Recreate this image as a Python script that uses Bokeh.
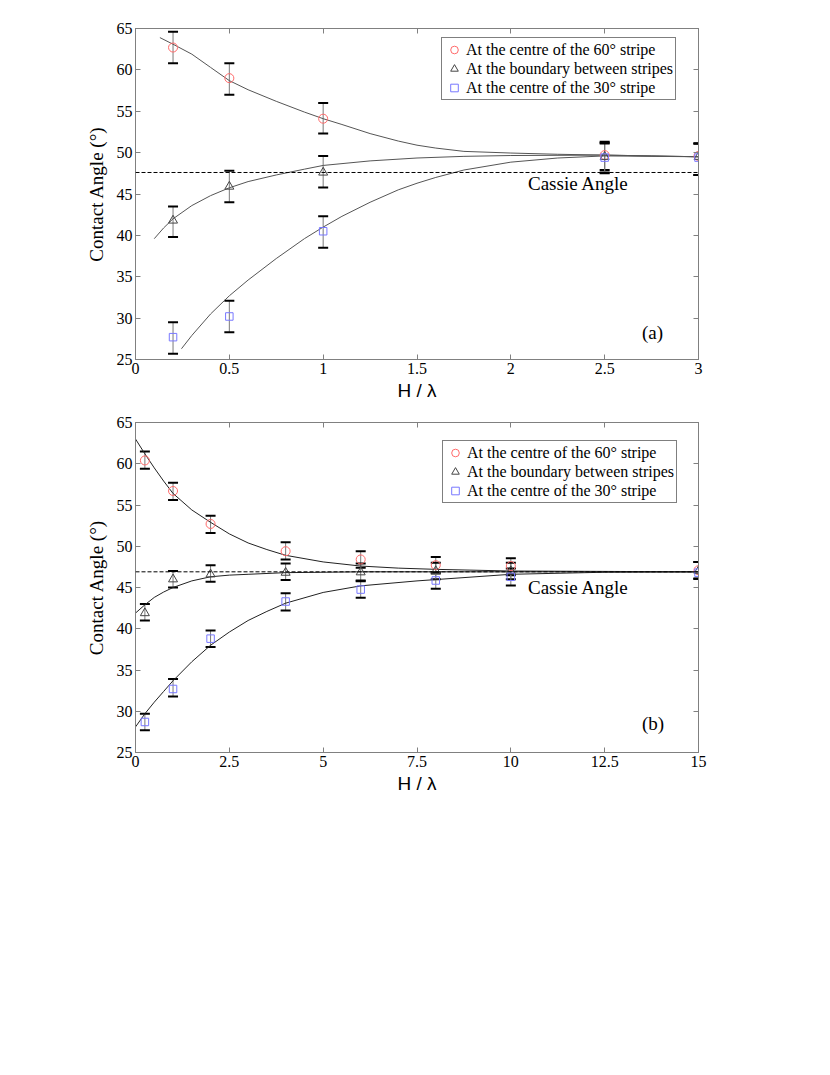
from bokeh.plotting import figure
from bokeh.models import (Range1d, LinearAxis, FixedTicker, CustomJSTickFormatter, Span,
                          Label, Whisker, TeeHead, ColumnDataSource, Legend, LegendItem)
from bokeh.layouts import column
from bokeh.embed import file_html
from bokeh.resources import INLINE

# ---------------- data: panel (a) ----------------
a_x = [0.2, 0.5, 1.0, 2.5, 3.0]
a_c60 = [62.7, 59.0, 54.1, 49.7, 49.6]
a_c60_lo = [60.8, 57.0, 52.3, 47.9, 47.3]
a_c60_hi = [64.6, 60.8, 56.0, 51.3, 51.1]
a_bnd = [41.8, 45.9, 47.6, 49.5, 49.5]
a_bnd_lo = [39.8, 44.0, 45.8, 47.6, 47.3]
a_bnd_hi = [43.5, 47.8, 49.6, 51.2, 51.1]
a_c30 = [27.7, 30.2, 40.5, 49.4, 49.4]
a_c30_lo = [25.7, 28.3, 38.5, 47.5, 47.3]
a_c30_hi = [29.5, 32.1, 42.3, 51.1, 51.1]
a_cassie = 47.6

a_fit60_x = [0.13, 0.2, 0.3, 0.4, 0.5, 0.6, 0.75, 0.9, 1.0, 1.1, 1.25, 1.4, 1.5, 1.6,
             1.75, 2.0, 2.25, 2.5, 2.75, 3.0]
a_fit60_y = [63.9, 63.1, 61.9, 60.3, 58.7, 57.6, 56.2, 54.9, 54.1, 53.4, 52.3, 51.4, 50.9,
             50.55, 50.15, 49.95, 49.8, 49.7, 49.6, 49.5]
a_fitb_x = [0.1, 0.15, 0.2, 0.3, 0.4, 0.5, 0.6, 0.75, 0.9, 1.0, 1.25, 1.5, 1.75, 2.0, 2.5, 3.0]
a_fitb_y = [39.6, 40.9, 42.0, 43.6, 44.8, 45.75, 46.5, 47.3, 48.0, 48.45, 49.0, 49.35, 49.55,
            49.65, 49.7, 49.5]
a_fit30_x = [0.245, 0.3, 0.4, 0.5, 0.6, 0.75, 0.9, 1.0, 1.1, 1.25, 1.4, 1.5, 1.6, 1.75, 2.0,
             2.25, 2.5, 3.0]
a_fit30_y = [26.3, 27.9, 30.5, 32.7, 34.6, 37.2, 39.6, 41.0, 42.3, 44.0, 45.5, 46.3, 47.0,
             47.9, 48.85, 49.35, 49.6, 49.5]
a_xticks = [0, 0.5, 1, 1.5, 2, 2.5, 3]

# ---------------- data: panel (b) ----------------
b_x = [0.25, 1, 2, 4, 6, 8, 10, 15]
b_c60 = [60.4, 56.7, 52.7, 49.4, 48.4, 47.7, 47.6, 47.1]
b_c60_lo = [59.4, 55.6, 51.6, 48.4, 47.4, 46.7, 46.5, 46.05]
b_c60_hi = [61.5, 57.7, 53.7, 50.5, 49.4, 48.7, 48.55, 48.1]
b_bnd = [41.9, 46.0, 46.6, 46.8, 46.85, 47.0, 47.0, 47.0]
b_bnd_lo = [41.0, 45.0, 45.7, 45.9, 45.85, 46.0, 46.0, 46.05]
b_bnd_hi = [43.0, 47.0, 47.7, 47.9, 47.9, 48.0, 48.0, 48.1]
b_c30 = [28.7, 32.7, 38.8, 43.3, 44.75, 45.85, 46.3, 46.8]
b_c30_lo = [27.7, 31.8, 37.8, 42.2, 43.75, 44.85, 45.25, 46.05]
b_c30_hi = [29.7, 33.9, 39.8, 44.3, 45.75, 46.85, 47.3, 48.1]
b_cassie = 46.9

b_fit60_x = [0, 0.25, 0.5, 0.75, 1, 1.5, 2, 2.5, 3, 3.5, 4, 5, 6, 7, 8, 10, 12.5, 15]
b_fit60_y = [63.0, 61.2, 59.5, 57.9, 56.4, 54.4, 52.9, 51.5, 50.4, 49.6, 48.9, 48.1, 47.6,
             47.35, 47.2, 47.0, 46.95, 46.9]
b_fitb_x = [0, 0.25, 0.5, 0.75, 1, 1.5, 2, 2.5, 3, 4, 5, 6, 10, 15]
b_fitb_y = [41.9, 42.9, 43.8, 44.45, 45.0, 45.8, 46.3, 46.5, 46.6, 46.8, 46.85, 46.9, 46.9, 46.9]
b_fit30_x = [0, 0.25, 0.5, 0.75, 1, 1.5, 2, 2.5, 3, 3.5, 4, 5, 6, 7.5, 10, 12.5, 15]
b_fit30_y = [28.1, 29.7, 31.1, 32.4, 33.7, 36.0, 38.0, 39.6, 41.0, 42.1, 43.1, 44.4, 45.2,
             45.8, 46.6, 46.85, 46.9]
b_xticks = [0, 2.5, 5, 7.5, 10, 12.5, 15]

y_ticks = [25, 30, 35, 40, 45, 50, 55, 60, 65]
labels = ["At the centre of the 60° stripe",
          "At the boundary between stripes",
          "At the centre of the 30° stripe"]

SERIF = "Liberation Serif"
SANS = "Liberation Sans"
AX_COL = "#808080"
RED = "#ff6a6a"
BLUE = "#7878ff"
TRI = "#444444"


def make_panel(xmax, xticks, x, series, fits, cassie, cassie_xy, tag_xy, tag,
               legend_loc, border_top, border_bottom, frame_h, fit_color):
    p = figure(frame_width=563, frame_height=frame_h, output_backend="svg",
               toolbar_location=None, x_range=Range1d(0, xmax), y_range=Range1d(25, 65),
               min_border_left=135, min_border_right=22, min_border_top=border_top,
               min_border_bottom=border_bottom, background_fill_color="white",
               border_fill_color="white")
    p.xgrid.visible = False
    p.ygrid.visible = False
    p.outline_line_color = AX_COL

    bottom = p.below[0]
    left = p.left[0]
    bottom.ticker = FixedTicker(ticks=xticks)
    bottom.formatter = CustomJSTickFormatter(code="return String(tick);")
    left.ticker = FixedTicker(ticks=y_ticks)

    blank = CustomJSTickFormatter(code="return '';")
    top = LinearAxis(ticker=FixedTicker(ticks=xticks), formatter=blank)
    p.add_layout(top, "above")
    right = LinearAxis(ticker=FixedTicker(ticks=y_ticks), formatter=blank)
    p.add_layout(right, "right")

    for ax in (bottom, left, top, right):
        ax.axis_line_color = AX_COL
        ax.major_tick_line_color = AX_COL
        ax.major_tick_in = 5
        ax.major_tick_out = 0
        ax.minor_tick_line_color = None
        ax.major_label_text_font = SERIF
        ax.major_label_text_font_style = "normal"
        ax.major_label_text_font_size = "16px"
        ax.major_label_text_color = "black"
        ax.major_label_standoff = 3
    top.major_label_standoff = 0
    right.major_label_standoff = 0

    bottom.axis_label = "H / λ"
    bottom.axis_label_text_font = SANS
    bottom.axis_label_text_font_style = "normal"
    bottom.axis_label_text_font_size = "19px"
    bottom.axis_label_text_color = "black"
    bottom.axis_label_standoff = 3
    left.axis_label = "Contact Angle (°)"
    left.axis_label_text_font = SERIF
    left.axis_label_text_font_style = "normal"
    left.axis_label_text_font_size = "19px"
    left.axis_label_text_color = "black"
    left.axis_label_standoff = 7

    # Cassie angle dashed line
    p.add_layout(Span(location=cassie, dimension="width", line_color="black",
                      line_width=1, line_dash="4 2"))
    p.add_layout(Label(x=cassie_xy[0], y=cassie_xy[1], text="Cassie Angle",
                       text_font=SERIF, text_font_size="19px", text_align="center",
                       text_baseline="middle", text_color="black"))
    p.add_layout(Label(x=tag_xy[0], y=tag_xy[1], text=tag, text_font=SERIF,
                       text_font_size="19px", text_align="center",
                       text_baseline="middle", text_color="black"))

    # fitted curves
    for fx, fy in fits:
        p.line(fx, fy, line_color=fit_color, line_width=1)

    # error bars
    for (vals, lo, hi) in series:
        src = ColumnDataSource(dict(x=x, lo=lo, hi=hi))
        w = Whisker(source=src, base="x", lower="lo", upper="hi", dimension="height",
                    line_color="#7a7a7a", line_width=1,
                    upper_head=TeeHead(size=10, line_color="black", line_width=2),
                    lower_head=TeeHead(size=10, line_color="black", line_width=2))
        p.add_layout(w)

    (v60, _, _), (vb, _, _), (v30, _, _) = series
    r1 = p.scatter(x, v60, marker="circle", size=9, fill_color=None, line_color=RED,
                   line_width=1)
    r2 = p.scatter(x, vb, marker="triangle", size=9, fill_color=None, line_color=TRI,
                   line_width=1)
    r3 = p.scatter(x, v30, marker="square", size=7.5, fill_color=None, line_color=BLUE,
                   line_width=1)

    leg = Legend(items=[LegendItem(label=labels[0], renderers=[r1]),
                        LegendItem(label=labels[1], renderers=[r2]),
                        LegendItem(label=labels[2], renderers=[r3])],
                 location=legend_loc, orientation="vertical")
    leg.label_text_font = SERIF
    leg.label_text_font_size = "16px"
    leg.label_text_color = "black"
    leg.label_height = 19
    leg.glyph_height = 19
    leg.glyph_width = 20
    leg.label_standoff = 2
    leg.spacing = 0
    leg.padding = 2
    leg.margin = 0
    leg.border_line_color = "black"
    leg.border_line_width = 1
    leg.background_fill_color = "white"
    leg.background_fill_alpha = 1
    p.add_layout(leg)
    return p


pa = make_panel(3, a_xticks, a_x,
                [(a_c60, a_c60_lo, a_c60_hi), (a_bnd, a_bnd_lo, a_bnd_hi),
                 (a_c30, a_c30_lo, a_c30_hi)],
                [(a_fit60_x, a_fit60_y), (a_fitb_x, a_fitb_y), (a_fit30_x, a_fit30_y)],
                a_cassie, (2.36, 46.3), (2.755, 28.3), "(a)", (306, 259),
                28, 46, 331, "#555555")
pb = make_panel(15, b_xticks, b_x,
                [(b_c60, b_c60_lo, b_c60_hi), (b_bnd, b_bnd_lo, b_bnd_hi),
                 (b_c30, b_c30_lo, b_c30_hi)],
                [(b_fit60_x, b_fit60_y), (b_fitb_x, b_fitb_y), (b_fit30_x, b_fit30_y)],
                b_cassie, (11.8, 45.0), (13.79, 28.5), "(b)", (307, 249),
                17, 46, 330, "#222222")

layout = column(pa, pb)
open("out.html", "w").write(file_html(layout, INLINE))
